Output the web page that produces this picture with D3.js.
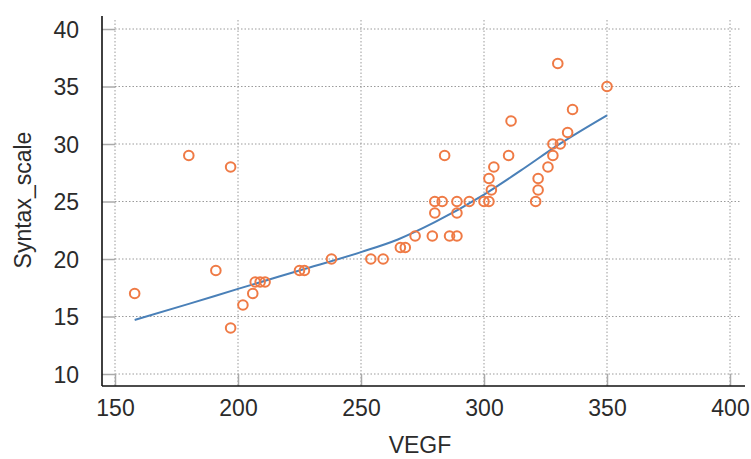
<!DOCTYPE html>
<html lang="en">
  <head>
    <meta charset="utf-8">
    <title>VEGF vs Syntax_scale</title>
    <script src="https://d3js.org/d3.v7.min.js"></script>
    <style>
      body { margin: 0; background: #fff; }
      text { font-family: Arial, "Liberation Sans", sans-serif; fill: #2b2b2b; }
    </style>
  </head>
  <body>
    <script>
    // scatter data
    const vegf = [158, 180, 197, 191, 197, 202, 206, 207, 209, 211, 225, 227, 238, 254, 259,
      266, 268, 272, 279, 286, 289, 280, 289, 280, 283, 289, 294, 300, 302, 321,
      303, 322, 302, 322, 304, 326, 284, 310, 328, 328, 331, 334, 311, 336, 350, 330]
    const syntax = [17, 29, 28, 19, 14, 16, 17, 18, 18, 18, 19, 19, 20, 20, 20,
      21, 21, 22, 22, 22, 22, 24, 24, 25, 25, 25, 25, 25, 25, 25,
      26, 26, 27, 27, 28, 28, 29, 29, 29, 30, 30, 31, 32, 33, 35, 37]

    // fitted curve
    const fitX = [158, 180, 200, 225, 250, 265, 280, 300, 315, 330, 350]
    const fitY = [14.7, 16.1, 17.4, 19.0, 20.6, 21.7, 23.2, 25.6, 27.7, 29.9, 32.5]

    const xTicks = [150, 200, 250, 300, 350, 400]
    const yTicks = [10, 15, 20, 25, 30, 35, 40]

    const measurements = { width: 751, height: 459 }

    const svg = d3.select('body').append('svg')
        .attr('width', measurements.width)
        .attr('height', measurements.height)

    const scaleX = d3.scaleLinear().domain([150, 400]).range([115, 730])
    const scaleY = d3.scaleLinear().domain([10, 40]).range([374, 29])

    // grid
    svg.append('g').selectAll('line').data(xTicks).join('line')
        .attr('x1', d => scaleX(d)).attr('x2', d => scaleX(d))
        .attr('y1', 20).attr('y2', 386)
        .attr('stroke', '#9a9a9a').attr('stroke-width', 1)
        .attr('stroke-dasharray', '1.5,2')
    svg.append('g').selectAll('line').data(yTicks).join('line')
        .attr('x1', 115).attr('x2', 740)
        .attr('y1', d => scaleY(d)).attr('y2', d => scaleY(d))
        .attr('stroke', '#9a9a9a').attr('stroke-width', 1)
        .attr('stroke-dasharray', '1.5,2')

    // axes
    const xAxis = d3.axisBottom(scaleX).tickValues(xTicks).tickSize(-12).tickPadding(14)
    const yAxis = d3.axisLeft(scaleY).tickValues(yTicks).tickSize(-13).tickPadding(23)

    const gx = svg.append('g').attr('transform', 'translate(0,386)').call(xAxis)
    const gy = svg.append('g').attr('transform', 'translate(102,0)').call(yAxis)
    for (const g of [gx, gy]) {
      g.select('.domain').remove()
      g.selectAll('.tick line').attr('stroke', '#aaa').attr('stroke-width', 1.5)
      g.selectAll('.tick text').style('font-size', '23px').attr('fill', '#2b2b2b')
    }
    gx.selectAll('.tick text').attr('dy', '0.71em')
    gy.selectAll('.tick text').attr('dy', '0.36em')

    svg.append('line').attr('x1', 102).attr('x2', 745).attr('y1', 386).attr('y2', 386)
        .attr('stroke', '#111').attr('stroke-width', 1.6)
    svg.append('line').attr('x1', 102).attr('x2', 102).attr('y1', 16).attr('y2', 386)
        .attr('stroke', '#111').attr('stroke-width', 1.6)

    // fitted line
    const line = d3.line()
        .x((d, i) => scaleX(fitX[i]))
        .y(d => scaleY(d))
        .curve(d3.curveMonotoneX)
    svg.append('path').datum(fitY)
        .attr('d', line)
        .attr('fill', 'none')
        .attr('stroke', '#4a80b8')
        .attr('stroke-width', 2)

    // points
    svg.append('g').selectAll('circle').data(vegf).join('circle')
        .attr('cx', d => scaleX(d))
        .attr('cy', (d, i) => scaleY(syntax[i]))
        .attr('r', 4.8)
        .attr('fill', 'none')
        .attr('stroke', '#ef7a45')
        .attr('stroke-width', 2)

    // axis titles
    svg.append('text')
        .attr('x', 420).attr('y', 453)
        .style('text-anchor', 'middle')
        .style('font-size', '23px')
        .text('VEGF')

    svg.append('text')
        .attr('transform', 'rotate(-90)')
        .attr('x', -200).attr('y', 31)
        .style('text-anchor', 'middle')
        .style('font-size', '23px')
        .text('Syntax_scale')
    </script>
  </body>
</html>
